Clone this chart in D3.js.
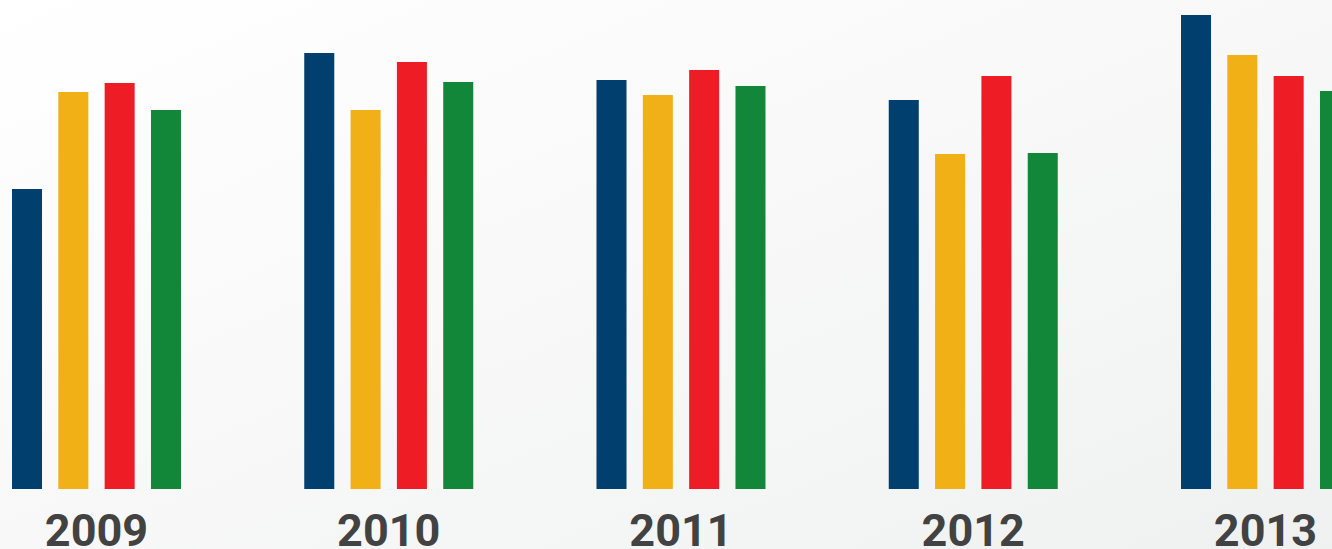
<!DOCTYPE html>
<html>
<head>
<meta charset="utf-8">
<script src="https://cdn.jsdelivr.net/npm/d3@7"></script>
<style>
html,body{margin:0;padding:0;overflow:hidden;}
svg{display:block;}
</style>
</head>
<body>
<svg id="chart" width="1332" height="549"></svg>
<script>
const years = ["2009", "2010", "2011", "2012", "2013"];
const series = ["A", "B", "C", "D"];
const colors = ["#003f6e", "#f0b016", "#ee1c25", "#12873a"];
const valuesA = [300, 436, 409, 389, 474];
const valuesB = [397, 379, 394, 335, 434];
const valuesC = [406, 427, 419, 413, 413];
const valuesD = [379, 407, 403, 336, 398];

const allValues = [valuesA, valuesB, valuesC, valuesD];
const W = 1332, H = 549;
const svg = d3.select("#chart");

const defs = svg.append("defs");
const grad = defs.append("linearGradient").attr("id", "bg")
  .attr("x1", "0").attr("y1", "0").attr("x2", "1").attr("y2", "1");
grad.append("stop").attr("offset", "0").attr("stop-color", "#ffffff");
grad.append("stop").attr("offset", "0.5").attr("stop-color", "#f8f8f8");
grad.append("stop").attr("offset", "1").attr("stop-color", "#eff1f1");
svg.append("rect").attr("width", W).attr("height", H).attr("fill", "url(#bg)");

const x0 = d3.scaleBand().domain(years).range([12, 12 + 5 * 292.25]).padding(0);
const x1 = d3.scaleBand().domain(series).range([0, 169]).paddingInner(0.352).paddingOuter(0);
const y = d3.scaleLinear().domain([0, 474]).range([489, 15]);

const groups = svg.selectAll("g.year").data(years).join("g")
  .attr("class", "year")
  .attr("transform", d => `translate(${x0(d)},0)`);

groups.selectAll("rect").data((d, i) => series.map((s, j) => ({s, j, v: allValues[j][i]})))
  .join("rect")
  .attr("x", d => x1(d.s))
  .attr("width", x1.bandwidth())
  .attr("y", d => y(d.v))
  .attr("height", d => y(0) - y(d.v))
  .attr("fill", d => colors[d.j]);

groups.append("text")
  .attr("x", 84.5)
  .attr("y", 546)
  .attr("text-anchor", "middle")
  .attr("font-family", "Roboto, sans-serif")
  .attr("font-weight", "bold")
  .attr("font-size", 45)
  .attr("fill", "#424242")
  .text(d => d);
</script>
</body>
</html>
